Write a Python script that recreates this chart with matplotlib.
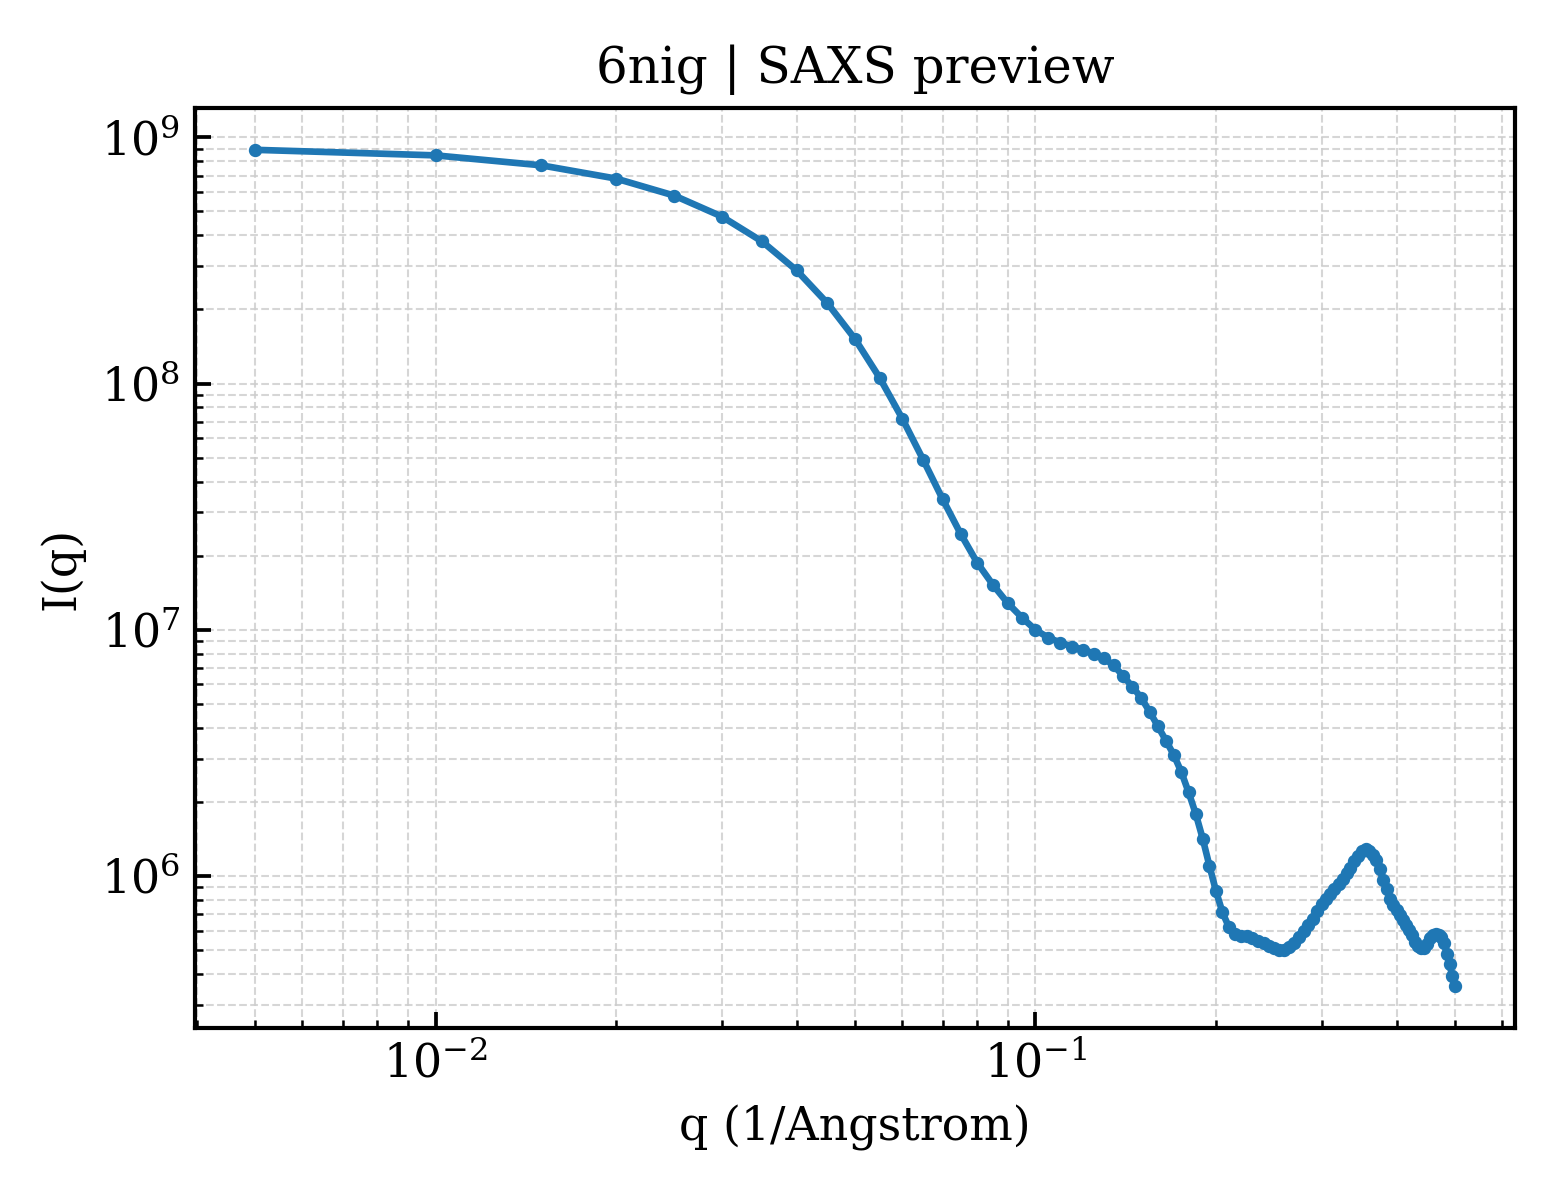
import matplotlib
matplotlib.use("Agg")
import matplotlib.pyplot as plt
import numpy as np

q_values = [
    0.005, 0.010, 0.015, 0.020, 0.025, 0.030, 0.035, 0.040, 0.045, 0.050,
    0.055, 0.060, 0.065, 0.070, 0.075, 0.080, 0.085, 0.090, 0.095, 0.100,
    0.105, 0.110, 0.115, 0.120, 0.125, 0.130, 0.135, 0.140, 0.145, 0.150,
    0.155, 0.160, 0.165, 0.170, 0.175, 0.180, 0.185, 0.190, 0.195, 0.200,
    0.205, 0.210, 0.215, 0.220, 0.225, 0.230, 0.235, 0.240, 0.245, 0.250,
    0.255, 0.260, 0.265, 0.270, 0.275, 0.280, 0.285, 0.290, 0.295, 0.300,
    0.305, 0.310, 0.315, 0.320, 0.325, 0.330, 0.335, 0.340, 0.345, 0.350,
    0.355, 0.360, 0.365, 0.370, 0.375, 0.380, 0.385, 0.390, 0.395, 0.400,
    0.405, 0.410, 0.415, 0.420, 0.425, 0.430, 0.435, 0.440, 0.445, 0.450,
    0.455, 0.460, 0.465, 0.470, 0.475, 0.480, 0.485, 0.490, 0.495, 0.500,
]

intensity = [
    8.9e8, 8.45e8, 7.7e8, 6.8e8, 5.8e8, 4.77e8, 3.78e8, 2.88e8, 2.12e8, 1.52e8,
    1.055e8, 7.2e7, 4.9e7, 3.4e7, 2.46e7, 1.87e7, 1.52e7, 1.28e7, 1.12e7, 1.0e7,
    9.3e6, 8.88e6, 8.55e6, 8.32e6, 8.01e6, 7.68e6, 7.17e6, 6.5e6, 5.88e6, 5.3e6,
    4.65e6, 4.06e6, 3.55e6, 3.11e6, 2.65e6, 2.19e6, 1.79e6, 1.42e6, 1.1e6, 8.67e5,
    7.12e5, 6.22e5, 5.83e5, 5.7e5, 5.69e5, 5.61e5, 5.47e5, 5.34e5, 5.21e5, 5.1e5,
    5.02e5, 5.03e5, 5.14e5, 5.36e5, 5.65e5, 5.96e5, 6.3e5, 6.71e5, 7.18e5, 7.67e5,
    8.09e5, 8.48e5, 8.88e5, 9.3e5, 9.75e5, 1.03e6, 1.08e6, 1.15e6, 1.21e6, 1.26e6,
    1.29e6, 1.27e6, 1.22e6, 1.16e6, 1.07e6, 9.6e5, 8.83e5, 8.09e5, 7.6e5, 7.25e5,
    6.92e5, 6.65e5, 6.34e5, 6.05e5, 5.74e5, 5.42e5, 5.19e5, 5.1e5, 5.12e5, 5.31e5,
    5.59e5, 5.74e5, 5.83e5, 5.77e5, 5.65e5, 5.36e5, 4.83e5, 4.4e5, 3.94e5, 3.57e5,
]

title_text = "6nig | SAXS preview"
xlabel_text = "q (1/Angstrom)"
ylabel_text = "I(q)"

plt.rcParams['font.family'] = ['DejaVu Serif']
plt.rcParams['mathtext.fontset'] = 'dejavuserif'

fig = plt.figure(figsize=(5.2, 4.0), dpi=300)
ax = fig.add_axes([0.125, 0.1433, 0.846, 0.7667])

ax.plot(q_values, intensity, color='#1f77b4', linewidth=1.6, marker='o',
        markersize=2.2)
ax.set_xscale('log')
ax.set_yscale('log')

ax.grid(True, which='both', linestyle='--', linewidth=0.5, color='#cccccc', alpha=0.8)
ax.set_axisbelow(True)

ax.tick_params(which='both', direction='in', top=False, right=False, labelsize=11)
ax.tick_params(which='major', length=3.8, width=0.9)
ax.tick_params(which='minor', length=2, width=0.6)
for s in ax.spines.values():
    s.set_linewidth(1.0)

ax.set_title(title_text, fontsize=12)
ax.set_xlabel(xlabel_text, fontsize=11)
ax.set_ylabel(ylabel_text, fontsize=11)

fig.savefig("out.png", dpi=300)
